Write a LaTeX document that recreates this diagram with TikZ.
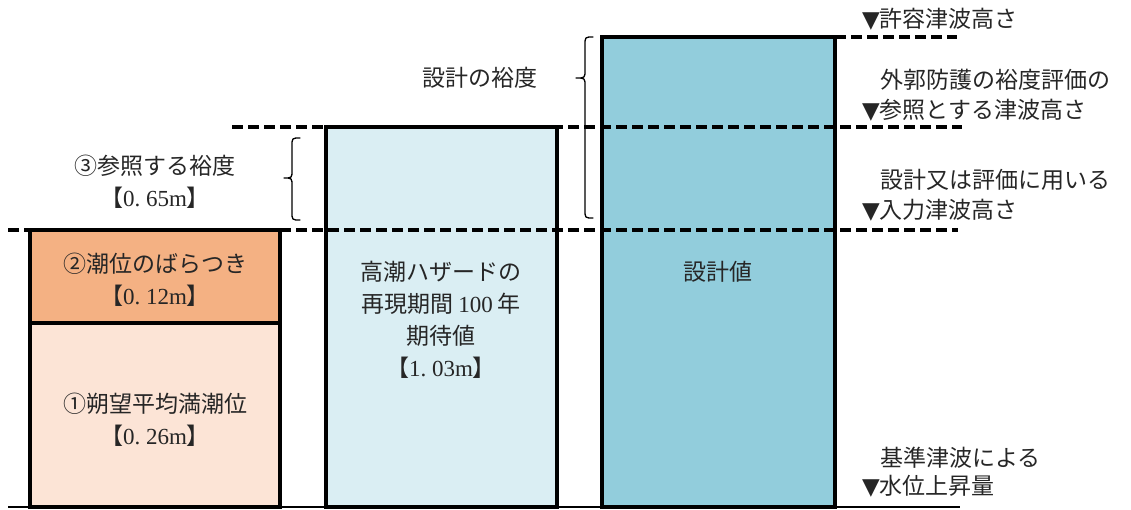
\documentclass[tikz,border=0pt]{standalone}
\usepackage{fontspec}
\newfontfamily\jp{Noto Sans CJK JP}
\newfontfamily\lat{Liberation Serif}
\newfontfamily\sym{DejaVu Sans}
\definecolor{peachL}{HTML}{FCE4D6}
\definecolor{peachD}{HTML}{F4B183}
\definecolor{blueL}{HTML}{DAEEF3}
\definecolor{blueD}{HTML}{92CDDC}
\begin{document}
\begin{tikzpicture}[x=1pt,y=-1pt,
  bar/.style={draw=black,line width=4pt},
  lvl/.style={line width=4pt,dash pattern=on 11pt off 5pt},
  bracestyle/.style={line width=1.3pt,line cap=round,line join=round},
  lbl/.style={font=\jp\fontsize{23}{32}\selectfont,inner sep=0pt,align=center,text=black!85},
  rlbl/.style={lbl,anchor=west,align=left}]
\useasboundingbox (0,0) rectangle (1131,509);
% fills
\fill[peachL] (30,323) rectangle (280,507);
\fill[peachD] (30,230) rectangle (280,323);
\fill[blueL] (326,127) rectangle (557,507);
\fill[blueD] (602,37) rectangle (835,507);
% level lines
\coordinate (l1a) at (8,230);   \coordinate (l1b) at (958,230);
\coordinate (l2a) at (232,127); \coordinate (l2b) at (962,127);
\coordinate (l3a) at (835,37);  \coordinate (l3b) at (957,37);
\coordinate (g1) at (8,507);    \coordinate (g2) at (960,507);
\draw[lvl] (l1a) -- (l1b);
\draw[lvl] (l2a) -- (l2b);
\draw[lvl] (l3a) -- (l3b);
\draw[line width=2pt] (g1) -- (g2);
% box borders
\draw[bar] (30,323) rectangle (280,507);
\draw[bar] (30,230) rectangle (280,323);
\draw[bar] (326,127) rectangle (557,507);
\draw[bar] (602,37) rectangle (835,507);
% braces
\draw[bracestyle] (300,138) .. controls (292,138) .. (292,146) -- (292,170)
  .. controls (292,178) .. (284,178) .. controls (292,178) .. (292,186)
  -- (292,212) .. controls (292,220) .. (300,220);
\draw[bracestyle] (593,37) .. controls (585,37) .. (585,45) -- (585,70)
  .. controls (585,78) .. (576,78) .. controls (585,78) .. (585,86)
  -- (585,210) .. controls (585,218) .. (593,218);
% texts
\node[lbl] (tmargin) at (480,78) {設計の裕度};
\node[lbl] (t3) at (155,182) {③参照する裕度\\【{\lat 0.\kern.25em65m}】};
\node[lbl] (t2) at (155,280) {②潮位のばらつき\\【{\lat 0.\kern.25em12m}】};
\node[lbl] (t1) at (155,420) {①朔望平均満潮位\\【{\lat 0.\kern.25em26m}】};
\node[lbl] (tm) at (441,320) {高潮ハザードの\\再現期間 {\lat 100} 年\\期待値\\【{\lat 1.\kern.25em03m}】};
\node[lbl] (td) at (718,272) {設計値};
\node[rlbl] (r1) at (862,19) {{\sym ▼}許容津波高さ};
\node[rlbl] (r2a) at (880,80) {外郭防護の裕度評価の};
\node[rlbl] (r2b) at (862,110) {{\sym ▼}参照とする津波高さ};
\node[rlbl] (r3a) at (880,180) {設計又は評価に用いる};
\node[rlbl] (r3b) at (862,210) {{\sym ▼}入力津波高さ};
\node[rlbl] (r4a) at (880,458) {基準津波による};
\node[rlbl] (r4b) at (862,486) {{\sym ▼}水位上昇量};
\end{tikzpicture}
\end{document}
